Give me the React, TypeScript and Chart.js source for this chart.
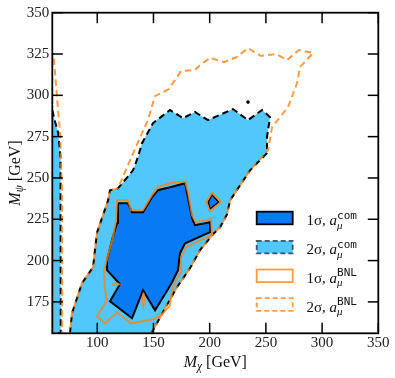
import { useEffect, useRef } from "react";
import { Chart, registerables } from "chart.js";

Chart.register(...registerables);

type P = [number, number];

const X_TICKS = [100, 150, 200, 250, 300, 350];
const Y_TICKS = [175, 200, 225, 250, 275, 300, 325, 350];

// ---- 2σ regions: shared edges ----
const twoSigmaLeftEdge: P[] = [
  [75.7, 155.9], [77.5, 168.1], [86.4, 186.3], [96.2, 196.0], [99.8, 217.0],
  [109.6, 236.4], [111.3, 242.5], [118.4, 243.7],
];
const comTwoSigmaTop: P[] = [
  [131.8, 254.6], [136.2, 262.6], [139.8, 271.0], [149.6, 283.2], [164.7, 291.1],
  [176.3, 286.2], [186.9, 289.9], [198.5, 285.0], [220.7, 291.7], [234.1, 285.0],
  [246.6, 291.1], [253.7, 286.8], [251.0, 274.7], [251.0, 265.0],
];
const bnlTwoSigmaTop: P[] = [
  [127.3, 257.8], [136.2, 271.7], [145.1, 285.0], [151.3, 299.5], [163.8, 303.8],
  [174.5, 314.7], [186.9, 315.3], [191.4, 318.3], [200.3, 322.6], [212.7, 320.1],
  [224.3, 323.2], [234.1, 328.6], [245.7, 323.8], [259.0, 325.0], [268.8, 321.4],
  [279.5, 327.4], [292.0, 325.6], [280.4, 317.1], [277.7, 307.4], [269.7, 292.9],
  [255.5, 280.8], [251.9, 266.8],
];
const twoSigmaRightEdge: P[] = [
  [235.9, 254.6], [225.2, 243.7], [218.1, 236.4], [215.4, 227.9], [209.2, 220.1],
  [202.9, 215.9], [191.4, 206.3], [182.5, 195.4], [170.9, 183.9], [160.3, 171.1],
  [149.6, 157.8], [147.8, 155.9],
];
// left strip near the axis
const comTwoSigmaStrip: P[] = [
  [60, 291], [62.5, 284], [65.3, 277.1], [67.3, 262.6], [67.5, 156], [60, 156],
];
const bnlTwoSigmaStrip: P[] = [
  [61, 325.6], [64.2, 298.9], [66.9, 277], [68.6, 242.5], [68.8, 156],
];
const bnlOneSigmaStrip: P[] = [[61, 238.4], [61, 156]];

// ---- 1σ regions ----
const comOneSigma: P[] = [
  [118.4, 234.7], [127.3, 234.7], [130.9, 229.3], [140.7, 229.3], [148.7, 238.4],
  [154.0, 242.6], [164.7, 244.4], [178.1, 246.8], [179.8, 240.8], [184.3, 225.6],
  [186.9, 221.4], [200.3, 223.2], [200.3, 217.2], [178.1, 210.5], [173.6, 204.4],
  [171.8, 194.2], [166.5, 186.9], [162.9, 182.6], [151.4, 169.9], [140.7, 182.0],
  [130.9, 165.1], [111.3, 175.4], [120.2, 185.7], [108.7, 194.2], [108.7, 200.2],
  [113.1, 212.4], [117.6, 222.7],
];
const comOneSigmaIsland: P[] = [[198.7, 235.4], [202.1, 239.8], [207.9, 235.4], [200.3, 231.2]];
const bnlOneSigma: P[] = [
  [117.6, 236.6], [127.3, 236.6], [130.0, 230.5], [140.7, 230.5], [148.7, 239.6],
  [154.0, 244.4], [164.7, 246.8], [178.1, 248.0], [180.7, 241.4], [184.3, 227.4],
  [187.8, 223.2], [201.2, 225.0], [202.1, 215.9], [179.0, 208.1], [174.5, 202.0],
  [174.5, 192.9], [170.0, 188.1], [166.5, 182.0], [164.7, 172.9], [158.5, 168.1],
  [149.6, 164.5], [130.0, 162.0], [117.6, 168.7], [106.9, 162.0], [99.8, 166.3],
  [108.7, 175.9], [106.9, 181.9], [106.0, 194.2], [111.3, 207.5], [114.0, 214.1],
  [116.7, 224.4],
];
const bnlOneSigmaIsland: P[] = [[196.9, 235.5], [202.3, 241.0], [210.1, 235.5], [200.3, 229.9]];
const bnlOneSigmaLensA: P[] = [[113.1, 185.7], [116.7, 186.6], [120.2, 185.7], [116.7, 184.8]];
const bnlOneSigmaLensB: P[] = [[141.1, 180.8], [142.5, 176.6], [141.1, 171.7], [139.8, 176.6]];
const comTwoSigmaSpeck: P[] = [[234.1, 295.9]];

const LEGEND_SIGMA = ["1σ", "2σ", "1σ", "2σ"];
const LEGEND_SUP = ["com", "com", "BNL", "BNL"];

const LIGHT = "#52c7fb";
const DARK = "#087bf4";
const ORANGE = "rgba(255,128,14,0.78)";
const SERIF = "'Liberation Serif', 'DejaVu Serif', serif";
const MONO = "'DejaVu Sans Mono', 'Liberation Mono', monospace";

const xy = (pts: P[]) => pts.map(([x, y]) => ({ x, y }));
const closed = (pts: P[]) => [...pts, pts[0]];

type Run = { t: string; font: string; dy?: number; stack?: boolean };

function layoutRuns(ctx: CanvasRenderingContext2D, runs: Run[], x: number, y: number, draw: boolean) {
  let cx = x;
  for (let i = 0; i < runs.length; i++) {
    const r = runs[i];
    ctx.font = r.font;
    const w = ctx.measureText(r.t).width;
    if (draw) ctx.fillText(r.t, cx, y + (r.dy || 0));
    if (r.stack && i + 1 < runs.length) {
      const n = runs[i + 1];
      ctx.font = n.font;
      const w2 = ctx.measureText(n.t).width;
      if (draw) ctx.fillText(n.t, cx, y + (n.dy || 0));
      cx += Math.max(w, w2);
      i++;
    } else {
      cx += w;
    }
  }
  return cx - x;
}

const decorPlugin = {
  id: "decor",
  afterDraw(chart: any) {
    const { ctx, chartArea: a, scales } = chart;
    const xs = scales.x;
    const ys = scales.y;
    ctx.save();
    ctx.strokeStyle = "#000";
    ctx.lineWidth = 1.5;
    ctx.setLineDash([]);
    const seg = (x1: number, y1: number, x2: number, y2: number) => {
      ctx.beginPath();
      ctx.moveTo(x1, y1);
      ctx.lineTo(x2, y2);
      ctx.stroke();
    };
    const TL = 10.5;
    X_TICKS.forEach((v) => {
      const p = xs.getPixelForValue(v);
      seg(p, a.bottom, p, a.bottom - TL);
      seg(p, a.top, p, a.top + TL);
    });
    Y_TICKS.forEach((v) => {
      const p = ys.getPixelForValue(v);
      seg(a.left, p, a.left + TL, p);
      seg(a.right, p, a.right - TL, p);
    });
    ctx.lineWidth = 1.8;
    ctx.strokeRect(a.left, a.top, a.right - a.left, a.bottom - a.top);

    // axis titles
    ctx.fillStyle = "#111";
    ctx.textBaseline = "alphabetic";
    ctx.textAlign = "left";
    const xRuns: Run[] = [
      { t: "M", font: `italic 16px ${SERIF}` },
      { t: "χ", font: `italic 11.5px ${SERIF}`, dy: 3 },
      { t: " [GeV]", font: `16px ${SERIF}` },
    ];
    const xw = layoutRuns(ctx, xRuns, 0, 0, false);
    layoutRuns(ctx, xRuns, (a.left + a.right) / 2 - xw / 2, 367, true);

    const yRuns: Run[] = [
      { t: "M", font: `italic 16px ${SERIF}` },
      { t: "ψ", font: `italic 11.5px ${SERIF}`, dy: 3 },
      { t: " [GeV]", font: `16px ${SERIF}` },
    ];
    const yw = layoutRuns(ctx, yRuns, 0, 0, false);
    ctx.save();
    ctx.translate(20, (a.top + a.bottom) / 2);
    ctx.rotate(-Math.PI / 2);
    layoutRuns(ctx, yRuns, -yw / 2, 0, true);
    ctx.restore();

    // legend
    const px = 256.7;
    const pw = 36;
    const ph = 12.6;
    const tops = [211.7, 240.8, 269.5, 298.2];
    LEGEND_SIGMA.forEach((sig, i) => {
      const top = tops[i];
      ctx.save();
      ctx.lineWidth = 1.8;
      if (i === 0) {
        ctx.fillStyle = DARK;
        ctx.fillRect(px, top, pw, ph);
        ctx.strokeStyle = "#000";
        ctx.setLineDash([]);
      } else if (i === 1) {
        ctx.fillStyle = LIGHT;
        ctx.fillRect(px, top, pw, ph);
        ctx.strokeStyle = "rgba(20,40,60,0.75)";
        ctx.setLineDash([5, 3]);
      } else if (i === 2) {
        ctx.strokeStyle = ORANGE;
        ctx.setLineDash([]);
      } else {
        ctx.strokeStyle = ORANGE;
        ctx.setLineDash([5, 3]);
      }
      ctx.strokeRect(px, top, pw, ph);
      ctx.restore();
      ctx.fillStyle = "#111";
      const base = top + ph / 2 + 7;
      const runs: Run[] = [
        { t: sig + ", ", font: `15px ${SERIF}` },
        { t: "a", font: `italic 15px ${SERIF}` },
        { t: "μ", font: `italic 11px ${SERIF}`, dy: 3.5, stack: true },
        { t: LEGEND_SUP[i], font: `11px ${MONO}`, dy: -6.5 },
      ];
      layoutRuns(ctx, runs, 306.5, base, true);
    });
    ctx.restore();
  },
};

export default function App() {
  const ref = useRef<HTMLCanvasElement>(null);
  useEffect(() => {
    if (!ref.current) return;
    const dashed = [6.5, 4];
    const line = { showLine: true, pointRadius: 0, tension: 0 };
    const datasets: any[] = [
      {
        ...line, label: "2σ com", data: xy([...twoSigmaLeftEdge, ...comTwoSigmaTop, ...twoSigmaRightEdge]),
        fill: "shape", backgroundColor: LIGHT, borderColor: "#000", borderWidth: 2, borderDash: dashed, order: 10,
      },
      {
        ...line, label: "2σ com strip", data: xy(comTwoSigmaStrip),
        fill: "shape", backgroundColor: LIGHT, borderColor: "#000", borderWidth: 2, borderDash: dashed, order: 10,
      },
      {
        ...line, label: "1σ com", data: xy(closed(comOneSigma)),
        fill: "shape", backgroundColor: DARK, borderColor: "#000", borderWidth: 2, order: 8,
      },
      {
        ...line, label: "1σ com island", data: xy(closed(comOneSigmaIsland)),
        fill: "shape", backgroundColor: DARK, borderColor: "#000", borderWidth: 1.5, order: 8,
      },
      {
        ...line, label: "2σ BNL", data: xy([...twoSigmaLeftEdge, ...bnlTwoSigmaTop, ...twoSigmaRightEdge]),
        fill: false, borderColor: ORANGE, borderWidth: 2, borderDash: dashed, borderDashOffset: 5, order: 6,
      },
      {
        ...line, label: "2σ BNL strip", data: xy(bnlTwoSigmaStrip),
        fill: false, borderColor: ORANGE, borderWidth: 2, borderDash: dashed, borderDashOffset: 5, order: 6,
      },
      {
        ...line, label: "1σ BNL", data: xy(closed(bnlOneSigma)),
        fill: false, borderColor: ORANGE, borderWidth: 2, order: 4,
      },
      {
        ...line, label: "1σ BNL island", data: xy(closed(bnlOneSigmaIsland)),
        fill: false, borderColor: ORANGE, borderWidth: 2, order: 4,
      },
      {
        ...line, label: "1σ BNL lens A", data: xy(closed(bnlOneSigmaLensA)),
        fill: false, borderColor: ORANGE, borderWidth: 1.5, order: 4,
      },
      {
        ...line, label: "1σ BNL lens B", data: xy(closed(bnlOneSigmaLensB)),
        fill: false, borderColor: ORANGE, borderWidth: 1.5, order: 4,
      },
      {
        ...line, label: "1σ BNL strip", data: xy(bnlOneSigmaStrip),
        fill: false, borderColor: ORANGE, borderWidth: 1.5, order: 4,
      },
      {
        label: "speck", data: xy(comTwoSigmaSpeck), showLine: false,
        pointRadius: 1.8, pointBackgroundColor: "#000", pointBorderWidth: 0, order: 2,
      },
    ];
    const tickFont = { family: SERIF, size: 15 };
    const chart = new Chart(ref.current, {
      type: "scatter",
      data: { datasets },
      options: {
        responsive: false,
        animation: false,
        devicePixelRatio: 1,
        layout: { padding: { left: 0, top: 12.7, right: 16.7, bottom: 0 } },
        plugins: { legend: { display: false }, tooltip: { enabled: false } },
        scales: {
          x: {
            type: "linear", min: 60, max: 350,
            afterFit: (s: any) => { s.height = 44.7; },
            afterBuildTicks: (s: any) => { s.ticks = X_TICKS.map((v) => ({ value: v })); },
            grid: { display: false, drawTicks: false },
            border: { display: false },
            ticks: { font: tickFont, color: "#222", padding: 1, maxRotation: 0, autoSkip: false },
          },
          y: {
            type: "linear", min: 156, max: 350,
            afterFit: (s: any) => { s.width = 52.3; },
            afterBuildTicks: (s: any) => { s.ticks = Y_TICKS.map((v) => ({ value: v })); },
            grid: { display: false, drawTicks: false },
            border: { display: false },
            ticks: { font: tickFont, color: "#222", padding: 3, autoSkip: false },
          },
        },
      } as any,
      plugins: [decorPlugin],
    });
    return () => chart.destroy();
  }, []);
  return (
    <div style={{ position: "fixed", left: 0, top: 0, width: 395, height: 378, background: "#fff" }}>
      <canvas ref={ref} width={395} height={378} style={{ display: "block" }} />
    </div>
  );
}
